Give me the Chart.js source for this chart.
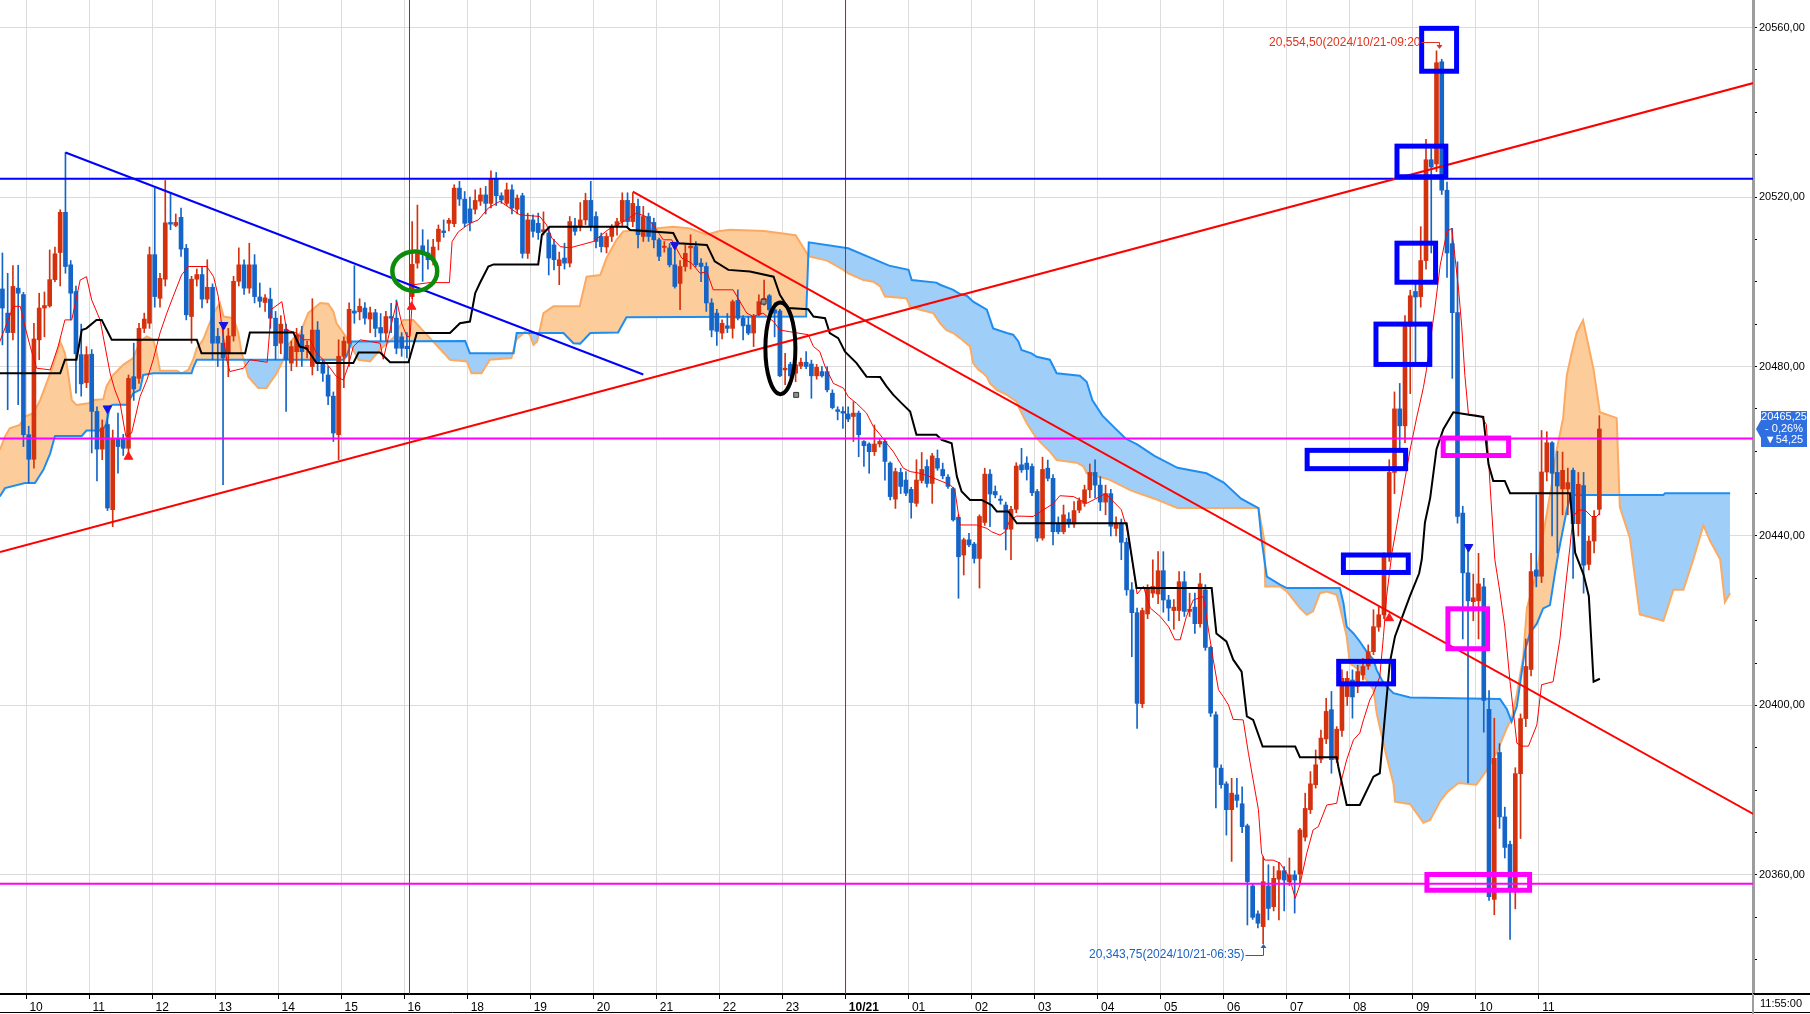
<!DOCTYPE html>
<html>
<head>
<meta charset="utf-8">
<script src="https://cdn.jsdelivr.net/npm/chart.js@4.4.1/dist/chart.umd.min.js"></script>
<style>
  html, body { margin: 0; padding: 0; background: #fff; }
  #wrap { width: 1810px; height: 1014px; position: relative; }
</style>
</head>
<body>
<div id="wrap"><canvas id="chart" width="1810" height="1014"></canvas></div>
<script>
// 5-minute bars, bar 0 = 10:00, last bar 299 = 10/21 11:55
const firstBar = -5;
const hourLabels = ['10', '11', '12', '13', '14', '15', '16', '18', '19', '20', '21', '22', '23', '10/21',
    '01', '02', '03', '04', '05', '06', '07', '08', '09', '10', '11'];

const opens = [
    20498.3, 20492.6, 20488.0, 20498.5, 20497.0, 20463.9, 20458.1, 20486.3, 20493.8, 20494.3,
    20500.5, 20506.9, 20516.4, 20504.0, 20497.7, 20482.8, 20476.2, 20482.9, 20469.4, 20460.5,
    20466.3, 20446.2, 20462.9, 20462.9, 20460.7, 20477.6, 20477.2, 20489.0, 20490.2, 20506.4,
    20496.1, 20500.6, 20514.0, 20513.3, 20515.2, 20507.9, 20491.8, 20500.6, 20501.7, 20495.9,
    20498.7, 20487.1, 20485.5, 20483.2, 20487.2, 20500.1, 20504.0, 20498.5, 20504.0, 20496.4,
    20495.1, 20495.9, 20491.4, 20485.5, 20488.8, 20480.8, 20483.5, 20487.5, 20484.0, 20480.0,
    20488.6, 20480.8, 20478.0, 20473.0, 20463.9, 20482.4, 20485.5, 20493.1, 20492.9, 20493.8,
    20491.2, 20492.7, 20489.2, 20487.9, 20491.8, 20491.4, 20487.0, 20484.8, 20496.5, 20504.4,
    20508.5, 20506.8, 20505.2, 20509.5, 20512.0, 20513.8, 20513.7, 20522.1, 20519.5, 20517.2,
    20517.1, 20519.0, 20520.5, 20518.5, 20524.4, 20520.3, 20518.5, 20521.7, 20517.1, 20520.3,
    20506.7, 20514.6, 20513.8, 20511.8, 20511.5, 20508.7, 20503.8, 20505.6, 20504.4, 20513.2,
    20513.0, 20514.6, 20519.2, 20515.4, 20510.7, 20508.2, 20510.7, 20513.0, 20514.2, 20519.2,
    20514.2, 20517.8, 20510.7, 20515.4, 20514.0, 20509.9, 20508.1, 20508.0, 20504.0, 20499.6,
    20503.6, 20508.0, 20508.3, 20504.4, 20503.6, 20495.0, 20492.6, 20487.9, 20489.6, 20489.0,
    20495.6, 20491.4, 20489.8, 20487.9, 20492.3, 20495.3, 20496.7, 20493.4, 20493.1, 20479.2,
    20480.5, 20478.4, 20480.1, 20481.0, 20480.6, 20477.8, 20478.8, 20478.8, 20473.7, 20469.8,
    20469.4, 20468.8, 20468.2, 20469.0, 20462.3, 20461.7, 20459.9, 20461.7, 20462.3, 20457.2,
    20448.7, 20455.0, 20453.2, 20451.0, 20447.7, 20453.1, 20456.4, 20452.4, 20458.3, 20455.7,
    20453.9, 20451.2, 20444.4, 20435.5, 20439.1, 20438.1, 20434.7, 20443.2, 20454.6, 20450.5,
    20448.7, 20447.3, 20441.6, 20446.3, 20456.8, 20457.2, 20456.4, 20450.5, 20439.5, 20456.0,
    20453.6, 20443.0, 20441.0, 20444.0, 20442.8, 20446.1, 20447.7, 20450.9, 20455.0, 20452.0,
    20448.0, 20450.0, 20441.8, 20443.0, 20438.5, 20427.3, 20421.9, 20400.4, 20421.6, 20426.5,
    20426.3, 20431.8, 20424.9, 20422.4, 20422.4, 20429.2, 20422.2, 20423.2, 20419.3, 20427.3,
    20413.7, 20397.8, 20385.2, 20381.5, 20375.4, 20378.9, 20376.8, 20371.6, 20357.4, 20350.8,
    20347.8, 20357.4, 20352.5, 20359.0, 20361.0, 20358.4, 20360.0, 20360.2, 20368.9, 20375.4,
    20381.3, 20387.3, 20392.1, 20399.0, 20387.3, 20394.1, 20402.1, 20406.0, 20404.5, 20407.2,
    20409.3, 20412.7, 20418.5, 20421.4, 20435.2, 20455.0, 20470.0, 20466.0, 20489.5, 20497.7,
    20496.5, 20505.0, 20528.8, 20527.8, 20551.9, 20521.6, 20509.0, 20492.7, 20445.4, 20431.3,
    20424.5, 20424.7, 20428.0, 20399.1, 20354.2, 20388.9, 20373.7, 20367.2, 20356.4, 20383.9,
    20396.9, 20408.5, 20432.0, 20430.5, 20455.1, 20462.0, 20455.0, 20451.1, 20451.1, 20455.5,
    20442.9, 20451.9, 20433.3, 20438.8, 20446.3
];
const highs = [
    20506.8, 20502.0, 20503.8, 20503.9, 20497.5, 20465.9, 20490.2, 20497.3, 20497.6, 20507.5,
    20508.2, 20517.0, 20530.5, 20505.0, 20499.0, 20490.0, 20484.7, 20484.0, 20470.5, 20467.4,
    20470.5, 20465.0, 20469.0, 20464.0, 20478.0, 20485.5, 20490.2, 20492.6, 20508.2, 20522.1,
    20502.0, 20523.9, 20521.0, 20516.0, 20517.4, 20508.8, 20501.3, 20503.0, 20503.6, 20505.2,
    20499.5, 20489.0, 20489.8, 20489.0, 20501.3, 20508.0, 20505.2, 20509.1, 20506.4, 20499.7,
    20497.0, 20498.5, 20493.0, 20492.0, 20490.0, 20486.0, 20489.0, 20489.5, 20486.0, 20496.0,
    20490.6, 20481.5, 20480.0, 20474.0, 20486.3, 20487.0, 20495.0, 20503.8, 20496.0, 20495.1,
    20494.0, 20493.5, 20492.5, 20493.0, 20494.9, 20495.7, 20488.0, 20488.0, 20514.2, 20518.1,
    20512.3, 20509.9, 20510.0, 20513.4, 20514.6, 20515.0, 20522.9, 20523.7, 20521.3, 20520.0,
    20521.7, 20522.1, 20522.5, 20526.2, 20525.8, 20521.0, 20523.3, 20522.9, 20520.5, 20520.9,
    20516.2, 20515.8, 20516.2, 20516.5, 20513.0, 20510.0, 20507.0, 20509.1, 20515.4, 20515.0,
    20518.7, 20520.9, 20523.7, 20516.5, 20511.5, 20511.5, 20513.5, 20515.0, 20521.0, 20521.0,
    20521.0, 20519.5, 20517.8, 20516.2, 20515.0, 20510.3, 20509.5, 20509.0, 20509.0, 20505.0,
    20508.7, 20511.1, 20509.5, 20505.5, 20504.5, 20496.0, 20493.5, 20491.0, 20492.5, 20495.7,
    20498.1, 20492.0, 20491.8, 20492.3, 20496.9, 20500.4, 20497.0, 20495.0, 20493.5, 20483.1,
    20481.0, 20481.0, 20482.0, 20483.5, 20481.5, 20480.5, 20480.0, 20480.0, 20474.5, 20470.5,
    20470.5, 20470.5, 20471.7, 20469.5, 20462.5, 20462.0, 20466.2, 20463.0, 20462.8, 20457.5,
    20456.0, 20456.0, 20455.2, 20451.5, 20458.0, 20459.7, 20458.0, 20459.5, 20460.3, 20457.2,
    20454.5, 20451.5, 20445.0, 20439.5, 20440.6, 20438.5, 20445.0, 20456.0, 20455.7, 20451.8,
    20449.5, 20448.0, 20447.0, 20457.3, 20460.7, 20458.7, 20457.0, 20451.0, 20458.6, 20457.9,
    20454.5, 20444.5, 20447.3, 20445.5, 20448.1, 20449.0, 20452.0, 20457.0, 20458.0, 20454.0,
    20452.0, 20451.0, 20444.5, 20444.0, 20439.5, 20429.0, 20423.0, 20423.0, 20428.5, 20434.4,
    20436.3, 20436.3, 20426.0, 20425.0, 20431.6, 20431.6, 20426.5, 20426.5, 20431.2, 20428.5,
    20414.0, 20398.5, 20386.0, 20382.0, 20382.8, 20382.8, 20380.8, 20372.0, 20358.0, 20351.5,
    20364.3, 20362.4, 20362.0, 20363.0, 20362.0, 20364.0, 20361.0, 20371.0, 20379.3, 20384.4,
    20389.5, 20394.2, 20401.7, 20403.3, 20395.0, 20408.4, 20408.0, 20408.4, 20409.5, 20411.1,
    20414.3, 20422.6, 20423.3, 20436.0, 20458.0, 20474.0, 20476.0, 20492.0, 20498.0, 20500.0,
    20513.0, 20533.6, 20531.4, 20554.5, 20552.5, 20523.5, 20512.6, 20504.7, 20447.0, 20437.4,
    20431.0, 20435.9, 20430.0, 20403.5, 20397.0, 20391.0, 20376.0, 20368.0, 20385.3, 20398.0,
    20415.7, 20435.9, 20449.7, 20464.9, 20464.6, 20462.3, 20460.0, 20459.8, 20456.0, 20456.0,
    20455.0, 20455.0, 20440.0, 20446.0, 20468.4
];
const lows = [
    20485.1, 20469.8, 20486.3, 20471.0, 20461.1, 20452.5, 20456.0, 20481.6, 20487.0, 20494.0,
    20500.0, 20499.0, 20502.0, 20491.0, 20473.7, 20473.0, 20475.0, 20459.6, 20453.0, 20458.0,
    20446.0, 20442.2, 20454.8, 20459.0, 20458.4, 20472.0, 20476.0, 20488.0, 20489.0, 20494.0,
    20494.0, 20499.0, 20512.3, 20513.0, 20506.0, 20491.0, 20485.5, 20499.0, 20493.8, 20495.0,
    20481.6, 20480.0, 20452.1, 20477.6, 20486.0, 20499.0, 20497.0, 20497.3, 20495.0, 20494.0,
    20493.0, 20489.0, 20481.6, 20483.0, 20469.4, 20479.0, 20480.0, 20480.0, 20482.0, 20478.0,
    20479.0, 20476.5, 20471.0, 20462.3, 20458.0, 20475.0, 20480.0, 20490.2, 20491.0, 20490.0,
    20488.0, 20487.0, 20486.0, 20486.0, 20488.0, 20483.0, 20482.4, 20482.0, 20496.0, 20503.2,
    20500.1, 20503.0, 20504.0, 20507.5, 20510.5, 20512.0, 20513.0, 20518.0, 20513.0, 20512.0,
    20516.0, 20518.0, 20516.0, 20517.4, 20518.0, 20518.5, 20518.0, 20516.0, 20516.0, 20505.6,
    20505.5, 20510.5, 20510.0, 20511.0, 20501.6, 20502.8, 20499.3, 20503.0, 20503.5, 20511.0,
    20512.0, 20513.5, 20512.0, 20508.0, 20507.0, 20506.8, 20509.5, 20511.0, 20513.0, 20513.0,
    20513.0, 20508.0, 20509.5, 20509.5, 20508.0, 20505.0, 20507.0, 20503.5, 20498.5, 20493.4,
    20502.5, 20503.0, 20503.5, 20500.0, 20493.0, 20487.0, 20485.0, 20486.5, 20488.0, 20486.7,
    20491.0, 20486.3, 20487.5, 20484.7, 20492.0, 20494.5, 20491.5, 20487.0, 20477.6, 20475.7,
    20477.5, 20476.4, 20479.5, 20479.5, 20472.5, 20477.0, 20477.5, 20474.0, 20470.0, 20467.4,
    20465.4, 20467.0, 20462.3, 20458.7, 20456.4, 20454.8, 20459.0, 20461.0, 20453.2, 20448.5,
    20446.5, 20450.0, 20449.5, 20444.2, 20447.0, 20452.5, 20451.5, 20447.7, 20455.5, 20453.5,
    20451.2, 20443.5, 20425.3, 20430.8, 20437.5, 20433.6, 20427.7, 20442.5, 20442.2, 20449.0,
    20447.5, 20436.7, 20434.4, 20445.5, 20455.0, 20453.2, 20449.5, 20438.7, 20439.0, 20453.0,
    20437.9, 20440.5, 20440.5, 20442.0, 20442.0, 20445.5, 20447.0, 20449.0, 20449.0, 20446.0,
    20445.0, 20440.0, 20440.0, 20434.4, 20426.0, 20411.5, 20394.6, 20399.5, 20420.5, 20425.5,
    20424.0, 20422.0, 20420.0, 20418.0, 20420.0, 20421.0, 20421.0, 20417.0, 20418.5, 20413.0,
    20397.4, 20375.8, 20380.5, 20369.4, 20363.2, 20376.0, 20370.0, 20348.2, 20349.5, 20347.5,
    20343.75, 20349.4, 20351.5, 20349.4, 20351.5, 20357.5, 20351.0, 20358.0, 20368.0, 20374.5,
    20380.5, 20386.5, 20391.0, 20384.0, 20386.5, 20392.7, 20400.0, 20397.0, 20403.0, 20406.0,
    20408.5, 20412.0, 20417.5, 20420.5, 20434.0, 20450.0, 20460.0, 20462.0, 20473.6, 20481.0,
    20494.0, 20503.0, 20506.8, 20526.0, 20520.6, 20501.0, 20477.2, 20443.0, 20415.7, 20381.7,
    20420.0, 20415.7, 20393.7, 20354.0, 20350.6, 20371.0, 20364.0, 20344.8, 20352.0, 20368.6,
    20395.0, 20407.0, 20428.0, 20429.0, 20453.0, 20440.0, 20436.0, 20445.0, 20445.0, 20430.0,
    20440.0, 20426.5, 20432.0, 20436.0, 20445.0
];
const closes = [
    20493.8, 20488.0, 20498.9, 20497.3, 20463.9, 20458.1, 20486.5, 20493.8, 20494.4, 20500.5,
    20506.6, 20516.4, 20503.6, 20497.3, 20483.0, 20475.9, 20482.8, 20469.4, 20460.5, 20465.5,
    20446.6, 20462.9, 20461.1, 20460.7, 20477.2, 20474.7, 20489.0, 20491.2, 20506.4, 20496.5,
    20500.8, 20513.9, 20513.6, 20514.0, 20507.7, 20492.2, 20500.6, 20501.7, 20495.9, 20498.7,
    20485.5, 20485.5, 20482.0, 20487.2, 20500.1, 20504.0, 20498.5, 20504.0, 20496.5, 20495.4,
    20496.2, 20491.4, 20484.9, 20490.0, 20481.6, 20484.7, 20487.4, 20483.5, 20485.0, 20488.6,
    20480.8, 20478.4, 20473.0, 20464.3, 20482.4, 20486.0, 20493.5, 20492.6, 20494.2, 20491.4,
    20492.7, 20489.0, 20487.9, 20491.8, 20491.4, 20484.3, 20484.3, 20484.2, 20504.1, 20506.6,
    20506.4, 20505.2, 20508.2, 20512.4, 20511.6, 20514.5, 20522.1, 20519.5, 20513.8, 20513.9,
    20519.2, 20520.5, 20518.5, 20524.4, 20520.3, 20519.3, 20521.7, 20517.4, 20519.7, 20506.7,
    20514.6, 20511.9, 20511.6, 20512.3, 20505.6, 20505.2, 20505.2, 20504.4, 20514.2, 20511.9,
    20514.6, 20519.2, 20513.0, 20509.5, 20508.3, 20510.7, 20513.0, 20514.2, 20519.2, 20514.2,
    20518.5, 20511.1, 20515.4, 20510.7, 20509.9, 20506.0, 20508.4, 20504.0, 20498.9, 20503.6,
    20506.7, 20508.4, 20504.0, 20503.6, 20495.0, 20488.6, 20488.3, 20490.2, 20489.0, 20495.3,
    20491.4, 20489.6, 20487.9, 20491.8, 20495.3, 20496.1, 20493.4, 20492.6, 20477.8, 20479.6,
    20477.8, 20480.4, 20481.0, 20480.0, 20477.8, 20479.8, 20477.8, 20474.5, 20470.3, 20469.4,
    20469.0, 20467.6, 20469.0, 20463.9, 20461.3, 20459.9, 20461.7, 20462.3, 20457.6, 20449.3,
    20455.2, 20451.7, 20450.1, 20447.9, 20453.2, 20455.7, 20452.4, 20458.9, 20456.0, 20454.2,
    20451.7, 20443.8, 20435.1, 20439.1, 20437.9, 20434.7, 20444.6, 20454.6, 20449.9, 20449.7,
    20448.4, 20441.6, 20446.3, 20456.5, 20455.6, 20455.7, 20450.2, 20439.5, 20455.7, 20453.6,
    20441.0, 20441.0, 20445.0, 20442.8, 20446.0, 20448.3, 20450.9, 20455.0, 20452.0, 20448.0,
    20450.0, 20442.3, 20443.0, 20438.5, 20427.3, 20421.9, 20400.5, 20422.4, 20427.7, 20428.1,
    20431.8, 20424.9, 20423.0, 20423.2, 20429.2, 20422.2, 20422.7, 20419.3, 20428.7, 20413.7,
    20398.2, 20385.4, 20381.3, 20375.4, 20379.3, 20377.6, 20371.4, 20358.4, 20350.0, 20348.6,
    20358.4, 20352.1, 20359.2, 20361.0, 20358.8, 20360.0, 20358.8, 20370.6, 20375.7, 20381.5,
    20386.0, 20392.3, 20398.6, 20387.2, 20394.4, 20406.4, 20406.4, 20402.0, 20408.0, 20409.2,
    20412.7, 20418.6, 20421.4, 20435.0, 20455.0, 20470.0, 20466.0, 20489.5, 20496.7, 20496.4,
    20505.0, 20528.8, 20527.1, 20551.7, 20521.6, 20506.8, 20492.7, 20444.6, 20431.3, 20424.7,
    20425.4, 20428.7, 20401.2, 20354.9, 20387.5, 20373.7, 20366.5, 20356.4, 20383.9, 20396.9,
    20409.2, 20431.6, 20430.5, 20455.1, 20462.0, 20454.8, 20451.8, 20455.5, 20452.6, 20442.9,
    20452.2, 20433.1, 20438.8, 20444.6, 20465.25
];

// ichimoku lines, [bar, price]
const tenkan = [
    [-5.5, 20485.9], [-2.9, 20494.2], [-1.6, 20494.2], [-0.7, 20489.4], [0.3, 20484.7], [1.5, 20479.6],
    [4.1, 20479.2], [5.6, 20484.7], [6.9, 20491.0], [8.2, 20491.0], [9.8, 20500.4], [11.0, 20501.2],
    [12.0, 20495.7], [13.6, 20491.0], [15.5, 20478.4], [16.4, 20474.5], [17.4, 20471.3], [18.5, 20463.5],
    [19.6, 20464.3], [21.2, 20472.9], [22.5, 20476.8], [23.7, 20481.6], [25.0, 20487.9], [26.3, 20492.6],
    [27.5, 20496.5], [29.1, 20501.6], [30.4, 20503.6], [33.9, 20503.6], [35.2, 20501.2], [36.1, 20496.5],
    [36.7, 20490.2], [37.7, 20481.6], [38.3, 20478.8], [40.9, 20479.6], [42.1, 20481.6], [45.4, 20481.0],
    [46.2, 20493.5], [48.2, 20495.3], [49.1, 20488.6], [51.0, 20487.9], [52.3, 20486.3], [53.6, 20486.3],
    [54.8, 20483.1], [56.1, 20481.6], [57.4, 20479.6], [58.6, 20477.6], [59.9, 20476.8], [60.8, 20480.0],
    [61.8, 20484.7], [63.1, 20486.3], [66.9, 20485.5], [67.5, 20481.7], [69.4, 20491.8], [70.1, 20495.3],
    [71.0, 20490.2], [72.0, 20487.1], [72.6, 20487.1], [73.2, 20499.3], [76.4, 20499.8], [80.1, 20499.8],
    [80.6, 20509.5], [81.8, 20511.8], [84.0, 20513.8], [85.6, 20514.6], [87.5, 20517.4], [89.7, 20519.0],
    [93.5, 20515.8], [97.3, 20515.4], [98.6, 20513.4], [99.6, 20510.3], [101.2, 20508.3], [103.0, 20508.0],
    [107.5, 20509.5], [110.3, 20512.3], [113.2, 20514.2], [115.7, 20516.2], [117.5, 20515.4], [118.9, 20513.4],
    [120.8, 20509.9], [122.4, 20509.9], [123.3, 20507.9], [124.3, 20505.6], [126.2, 20504.4], [127.8, 20502.0],
    [129.1, 20502.4], [130.3, 20498.1], [134.1, 20498.1], [135.4, 20495.3], [136.7, 20492.6], [137.9, 20491.8],
    [139.8, 20492.6], [141.8, 20490.6], [143.0, 20488.6], [144.9, 20488.2], [148.4, 20487.5], [149.4, 20484.7],
    [150.6, 20483.5], [151.6, 20480.0], [153.2, 20476.0], [155.1, 20474.9], [156.0, 20472.9], [157.6, 20471.3],
    [159.5, 20469.0], [160.8, 20465.8], [162.1, 20463.9], [163.3, 20461.9], [164.6, 20459.9], [166.5, 20456.0],
    [167.8, 20455.2], [169.7, 20454.8], [171.6, 20454.0], [175.4, 20452.1], [176.3, 20450.9], [177.3, 20442.6],
    [180.5, 20442.6], [181.4, 20442.2], [182.4, 20441.8], [183.3, 20441.0], [184.9, 20440.2], [185.9, 20441.0],
    [186.8, 20443.8], [188.1, 20444.7], [191.2, 20444.6], [195.1, 20447.7], [196.3, 20449.5], [198.9, 20449.3],
    [200.1, 20448.5], [201.4, 20447.7], [205.0, 20450.0], [208.0, 20446.2], [209.0, 20442.0], [210.0, 20434.7],
    [211.0, 20426.3], [212.2, 20428.1], [213.5, 20423.0], [215.4, 20421.0], [217.0, 20418.6], [218.2, 20415.5],
    [219.2, 20415.5], [220.4, 20421.0], [221.7, 20424.9], [223.6, 20425.7], [224.6, 20417.8], [225.5, 20410.8],
    [226.5, 20403.7], [227.4, 20402.1], [228.4, 20400.1], [229.3, 20396.7], [231.2, 20396.6], [232.2, 20388.7],
    [233.1, 20382.4], [234.1, 20375.4], [234.7, 20365.1], [235.3, 20363.5], [236.9, 20363.5], [238.2, 20362.8],
    [239.5, 20360.4], [240.4, 20357.7], [241.1, 20354.5], [242.0, 20357.7], [243.3, 20365.1], [244.5, 20370.6],
    [245.5, 20371.4], [247.1, 20376.5], [249.0, 20376.9], [249.6, 20380.9], [250.9, 20387.2], [252.2, 20391.9],
    [253.4, 20393.5], [254.1, 20396.6], [255.3, 20401.3], [256.0, 20402.9], [257.2, 20406.8], [257.9, 20416.3],
    [258.5, 20425.7], [259.5, 20435.9], [260.4, 20442.2], [263.0, 20460.5], [264.2, 20467.8], [265.5, 20475.0],
    [266.1, 20479.3], [266.8, 20485.9], [267.7, 20493.8], [268.7, 20503.9], [270.0, 20511.9], [270.9, 20512.6],
    [271.5, 20506.1], [272.2, 20498.2], [272.8, 20489.5], [273.4, 20477.9], [274.1, 20468.5], [275.6, 20468.5],
    [276.6, 20468.1], [277.5, 20466.3], [278.2, 20451.9], [279.1, 20434.5], [280.1, 20426.5], [281.0, 20418.6],
    [282.0, 20405.6], [283.3, 20391.1], [284.2, 20390.4], [285.5, 20390.4], [287.1, 20395.4], [288.0, 20404.9],
    [290.2, 20405.6], [291.5, 20415.7], [292.5, 20427.3], [293.4, 20437.4], [294.0, 20444.6], [295.0, 20446.1],
    [296.3, 20446.1], [297.5, 20444.6], [298.5, 20444.6], [299.1, 20445.4]
];
const kijun = [
    [-5.5, 20478.4], [6.0, 20478.4], [6.9, 20481.6], [9.1, 20481.6], [10.1, 20488.6], [11.0, 20489.0],
    [12.9, 20491.0], [13.9, 20491.0], [15.8, 20486.3], [32.0, 20486.3], [32.9, 20483.1], [41.2, 20483.1],
    [42.1, 20488.0], [50.4, 20488.0], [51.6, 20484.7], [52.9, 20484.3], [54.8, 20480.8], [61.8, 20480.8],
    [62.8, 20483.3], [66.9, 20483.3], [68.8, 20481.0], [72.3, 20481.0], [73.9, 20487.9], [80.2, 20487.9],
    [82.1, 20490.2], [84.0, 20490.6], [85.0, 20497.3], [85.9, 20499.7], [87.5, 20503.6], [88.5, 20504.1],
    [97.0, 20504.1], [97.7, 20511.1], [99.2, 20513.0], [113.8, 20513.0], [114.5, 20512.2], [122.7, 20511.5],
    [123.7, 20509.1], [129.1, 20508.7], [130.6, 20504.8], [133.2, 20502.8], [137.3, 20502.4], [141.8, 20501.2],
    [143.0, 20496.9], [144.6, 20493.8], [148.4, 20493.5], [149.4, 20491.8], [151.6, 20491.4], [152.5, 20487.9],
    [154.1, 20486.7], [155.4, 20483.5], [157.6, 20480.8], [159.5, 20477.6], [162.1, 20477.5], [163.3, 20475.3],
    [164.6, 20473.3], [166.2, 20471.3], [167.8, 20469.4], [169.0, 20463.9], [172.8, 20463.9], [173.8, 20462.7],
    [175.7, 20461.9], [176.7, 20454.0], [177.6, 20450.5], [179.2, 20448.5], [181.4, 20448.5], [183.3, 20447.3],
    [184.3, 20445.8], [186.5, 20445.8], [188.1, 20443.0], [209.0, 20443.0], [210.9, 20427.7], [225.2, 20427.7],
    [226.1, 20417.0], [228.0, 20415.1], [229.3, 20410.8], [230.9, 20408.0], [231.9, 20397.4], [233.1, 20396.6],
    [234.9, 20390.3], [241.1, 20390.3], [242.0, 20387.8], [249.0, 20387.8], [249.3, 20385.6], [250.9, 20376.5],
    [253.4, 20376.5], [256.0, 20383.2], [257.2, 20384.0], [259.1, 20410.0], [260.1, 20416.3], [262.9, 20425.7],
    [264.7, 20431.2], [265.2, 20434.5], [265.8, 20443.2], [266.8, 20449.0], [268.0, 20460.5], [269.3, 20465.2],
    [271.2, 20469.2], [276.9, 20468.1], [277.9, 20456.9], [278.8, 20453.0], [281.0, 20453.0], [282.0, 20450.1],
    [293.4, 20450.1], [294.4, 20436.0], [296.0, 20430.9], [297.0, 20425.8], [297.9, 20405.6], [299.1, 20406.3]
];
const spanA = [
    [-5.5, 20460.3], [-4.5, 20463.5], [-3.6, 20465.4], [-1.7, 20466.2], [-0.7, 20468.2], [0.9, 20469.0],
    [2.2, 20472.1], [4.1, 20478.4], [5.0, 20481.6], [6.0, 20485.9], [6.9, 20483.1], [7.5, 20478.4],
    [8.2, 20472.1], [9.1, 20470.9], [11.4, 20471.3], [12.3, 20472.1], [14.2, 20472.3], [14.8, 20475.3],
    [16.1, 20478.0], [18.0, 20480.4], [19.9, 20482.0], [21.2, 20485.9], [22.5, 20487.1], [23.7, 20486.3],
    [24.4, 20483.1], [25.0, 20479.0], [28.2, 20479.0], [29.1, 20478.4], [30.4, 20479.2], [31.3, 20481.6],
    [32.0, 20484.3], [33.2, 20486.3], [35.2, 20492.6], [36.4, 20495.0], [37.1, 20491.8], [39.0, 20491.4],
    [39.9, 20487.9], [40.5, 20483.5], [41.2, 20480.4], [41.8, 20477.6], [43.7, 20474.9], [45.3, 20474.9],
    [46.3, 20476.8], [47.2, 20478.4], [48.5, 20481.6], [49.1, 20484.7], [50.7, 20487.1], [51.7, 20487.9],
    [53.2, 20492.6], [55.5, 20495.0], [57.0, 20494.8], [58.0, 20493.0], [58.6, 20490.2], [59.9, 20487.9],
    [61.2, 20485.5], [61.8, 20483.9], [62.8, 20481.6], [65.0, 20481.2], [66.9, 20484.0], [69.4, 20486.7],
    [71.3, 20491.0], [73.2, 20491.0], [76.7, 20486.3], [80.2, 20481.6], [83.4, 20481.2], [84.3, 20478.4],
    [86.2, 20478.4], [87.8, 20481.6], [91.9, 20482.0], [92.8, 20486.3], [94.5, 20488.2], [95.4, 20487.5],
    [96.1, 20485.1], [96.8, 20485.9], [98.0, 20492.6], [99.9, 20494.2], [104.9, 20494.2], [106.2, 20501.2],
    [108.8, 20501.6], [110.0, 20505.6], [111.9, 20509.9], [113.2, 20511.9], [122.7, 20513.0], [125.9, 20512.6],
    [129.1, 20511.1], [131.3, 20511.9], [133.5, 20512.3], [140.0, 20512.0], [146.0, 20511.0], [148.5, 20506.0],
    [152.0, 20505.0], [155.1, 20502.8], [156.0, 20502.0], [158.9, 20500.4], [160.8, 20500.0], [162.1, 20498.9],
    [163.0, 20496.5], [167.1, 20496.1], [167.8, 20494.1], [169.7, 20493.4], [172.2, 20492.6], [173.5, 20490.2],
    [174.7, 20488.6], [176.0, 20487.9], [177.3, 20486.7], [179.2, 20484.7], [179.8, 20480.8], [180.8, 20479.2],
    [181.7, 20478.4], [182.4, 20477.6], [183.0, 20476.0], [184.3, 20474.5], [186.2, 20473.3], [188.1, 20471.7],
    [188.7, 20469.8], [190.0, 20466.6], [191.6, 20463.5], [192.8, 20461.9], [194.4, 20459.9], [195.7, 20457.9],
    [199.5, 20457.3], [200.8, 20456.4], [201.4, 20454.8], [205.5, 20453.4], [209.9, 20450.7], [214.3, 20448.8],
    [218.7, 20446.6], [234.1, 20446.6], [235.2, 20439.1], [235.4, 20428.1], [238.2, 20428.1], [239.5, 20426.9],
    [242.0, 20423.0], [243.3, 20421.4], [244.5, 20422.2], [245.8, 20426.5], [247.1, 20426.9], [249.0, 20426.1],
    [249.6, 20423.3], [250.9, 20416.3], [251.5, 20410.0], [252.8, 20408.8], [254.7, 20406.0], [256.0, 20403.7],
    [256.3, 20401.3], [256.6, 20398.2], [257.6, 20392.7], [258.5, 20387.9], [259.8, 20381.6], [260.1, 20377.3],
    [263.0, 20376.7], [265.5, 20372.3], [266.8, 20373.0], [268.7, 20377.4], [270.0, 20379.5], [272.2, 20381.7],
    [275.6, 20381.3], [277.5, 20384.6], [279.5, 20389.0], [281.4, 20394.7], [282.3, 20396.9], [283.3, 20402.7],
    [284.5, 20411.4], [285.2, 20422.9], [287.1, 20431.6], [288.3, 20440.3], [289.9, 20451.9], [290.9, 20460.5],
    [292.1, 20467.8], [292.8, 20477.9], [293.7, 20483.0], [294.7, 20488.0], [295.9, 20490.9], [296.9, 20485.1],
    [297.9, 20479.3], [299.1, 20469.2], [301.7, 20468.1], [302.3, 20467.8], [302.9, 20446.8], [304.8, 20439.6],
    [306.7, 20421.5], [311.2, 20420.0], [313.1, 20427.3], [315.0, 20427.3], [316.9, 20434.5], [318.8, 20442.5],
    [320.1, 20438.8], [322.0, 20434.5], [322.9, 20424.4], [323.9, 20426.5]
];
const spanB = [
    [-5.5, 20449.3], [-4.5, 20451.3], [-0.7, 20452.5], [1.2, 20452.5], [2.8, 20455.6], [4.1, 20459.5],
    [5.0, 20463.6], [10.1, 20463.6], [11.0, 20464.9], [13.9, 20464.9], [14.7, 20466.2], [15.5, 20470.7],
    [16.1, 20471.0], [18.7, 20471.0], [19.9, 20473.7], [21.2, 20474.5], [21.8, 20478.0], [23.7, 20478.4],
    [31.0, 20478.4], [31.3, 20479.6], [32.0, 20481.6], [59.9, 20481.6], [60.5, 20482.4], [61.5, 20485.9],
    [83.1, 20486.0], [84.0, 20483.1], [92.3, 20483.1], [92.9, 20487.9], [101.8, 20487.9], [103.7, 20485.5],
    [105.0, 20485.4], [106.9, 20487.9], [112.2, 20488.0], [113.8, 20491.6], [148.0, 20491.8], [148.5, 20509.3],
    [156.0, 20507.9], [163.8, 20503.8], [167.5, 20502.8], [168.1, 20500.4], [172.8, 20499.8], [173.5, 20499.3],
    [176.0, 20498.1], [177.3, 20497.1], [178.6, 20496.7], [179.8, 20495.3], [182.4, 20493.4], [183.6, 20489.0],
    [186.2, 20487.9], [187.4, 20487.5], [188.4, 20485.9], [189.0, 20483.9], [190.9, 20483.1], [191.9, 20482.3],
    [194.4, 20481.6], [195.7, 20478.4], [200.1, 20477.8], [201.4, 20476.4], [202.5, 20472.0], [204.4, 20468.4],
    [206.6, 20465.7], [208.8, 20463.0], [211.0, 20461.6], [214.3, 20458.9], [218.7, 20456.1], [224.2, 20454.8],
    [227.5, 20452.6], [230.8, 20448.8], [234.1, 20446.6], [234.7, 20439.1], [235.7, 20430.4], [238.2, 20428.5],
    [239.5, 20427.7], [249.6, 20427.7], [250.3, 20424.1], [250.9, 20418.6], [252.2, 20417.0], [253.4, 20415.1],
    [254.7, 20412.7], [256.0, 20410.8], [256.6, 20408.4], [257.6, 20406.0], [258.5, 20404.5], [259.8, 20402.9],
    [263.0, 20401.9], [280.1, 20401.5], [281.4, 20399.1], [282.3, 20396.2], [283.3, 20399.8], [284.8, 20412.8],
    [285.8, 20417.1], [287.1, 20419.3], [288.3, 20422.9], [289.6, 20423.7], [290.6, 20431.6], [291.2, 20436.0],
    [292.1, 20441.7], [292.8, 20446.1], [293.4, 20449.0], [294.4, 20449.7], [311.2, 20449.7], [311.5, 20450.1],
    [323.9, 20450.1]
];

// drawn lines
const resistance = 20524.3;
const pivotLine = 20463.0;
const supportLine = 20357.9;
const blueTrend = [[7, 20530.5], [117, 20478.1]];
const redFall = [[115, 20521.3], [328.3, 20374.4]];
const redRise = [[-5.46, 20436.2], [328.3, 20546.9]];
const sessionMarks = [72.5, 155.5];

// signals
const buySignals = [[19, 20458.7], [72.9, 20494.1], [259, 20420.6]];
const sellSignals = [[15, 20470.1], [37.1, 20489.8], [123, 20508.7], [274.1, 20437.4]];
const graySignals = [[139.9, 20495.3], [146.1, 20473.3]];

// boxes: [fromBar, toBar, lowPrice, highPrice]
const blueBoxes = [
    [264.7, 272.3, 20549.1, 20560.4], [260.0, 270.25, 20524.2, 20532.6], [260.0, 268.3, 20499.3, 20509.7],
    [256.0, 267.2, 20479.9, 20490.6], [242.9, 262.6, 20455.3, 20460.8], [249.8, 263.1, 20430.8, 20436.1],
    [248.9, 260.3, 20404.5, 20411.0]
];
const pinkBoxes = [
    [268.8, 282.2, 20458.4, 20463.7], [269.7, 278.2, 20412.8, 20423.4], [265.7, 286.2, 20355.8, 20360.7]
];
// rings: [bar, price, halfWidthBars, halfHeightPrice]
const greenRing = [73.5, 20502.5, 4.7, 5.2];
const blackRing = [143.1, 20484.3, 3.24, 11.3];

const highNote = { bar: 268, price: 20554.5, text: '20,554,50(2024/10/21-09:20' };
const lowNote = { bar: 235, price: 20343.75, text: '20,343,75(2024/10/21-06:35)' };
const lastPrice = 20465.25;
const lastChange = ['20465,25', '- 0,26%', '\u25BC54,25'];
const lastTime = '11:55:00';

const xMin = -5.46, xMax = 328.25;
const yMin = 20331.9, yMax = 20566.5;
const FONT = '"Liberation Sans", Arial, sans-serif';
const UP = '#d4320f', DOWN = '#1565c8';

const pts = arr => arr.map(p => ({ x: p[0], y: p[1] }));
const bars = opens.map((_, k) => firstBar + k);
const candleColor = ctx => closes[ctx.dataIndex] >= opens[ctx.dataIndex] ? UP : DOWN;

function lineSet(data, color, width, order) {
    return { type: 'line', data: data, borderColor: color, borderWidth: width, pointRadius: 0,
        tension: 0, fill: false, order: order };
}

const overlayPlugin = {
    id: 'overlay',
    afterDatasetsDraw(chart) {
        const { ctx, chartArea: a, scales: { x, y } } = chart;
        ctx.save();
        ctx.beginPath();
        ctx.rect(a.left, a.top, a.right - a.left, a.bottom - a.top);
        ctx.clip();

        const strokeBox = b => {
            const x0 = x.getPixelForValue(b[0]), x1 = x.getPixelForValue(b[1]);
            const y0 = y.getPixelForValue(b[3]), y1 = y.getPixelForValue(b[2]);
            ctx.strokeRect(x0 + 2.5, y0 + 2.5, x1 - x0 - 5, y1 - y0 - 5);
        };
        ctx.lineWidth = 5;
        ctx.strokeStyle = '#0000ff';
        blueBoxes.forEach(strokeBox);
        ctx.strokeStyle = '#ff00ff';
        pinkBoxes.forEach(strokeBox);

        const ring = (r, color, w) => {
            const cx = x.getPixelForValue(r[0]), cy = y.getPixelForValue(r[1]);
            const rx = x.getPixelForValue(r[0] + r[2]) - cx - w / 2;
            const ry = y.getPixelForValue(r[1] - r[3]) - cy - w / 2;
            ctx.beginPath();
            ctx.ellipse(cx, cy, rx, ry, 0, 0, Math.PI * 2);
            ctx.lineWidth = w;
            ctx.strokeStyle = color;
            ctx.stroke();
        };
        ring(greenRing, '#0a8c0a', 4.5);
        ring(blackRing, '#000000', 4);
        ctx.restore();

        // high / low notes
        ctx.save();
        ctx.font = '12px ' + FONT;
        ctx.textBaseline = 'middle';
        ctx.lineWidth = 1;
        let cx = Math.round(x.getPixelForValue(highNote.bar)) + 0.5;
        let cy = Math.round(y.getPixelForValue(highNote.price));
        ctx.fillStyle = ctx.strokeStyle = '#e0321c';
        ctx.textAlign = 'right';
        ctx.fillText(highNote.text, cx - 17, cy - 8);
        ctx.beginPath();
        ctx.moveTo(cx - 16, cy - 8.5);
        ctx.lineTo(cx + 2, cy - 8.5);
        ctx.lineTo(cx + 2, cy - 5);
        ctx.stroke();
        ctx.beginPath();
        ctx.moveTo(cx - 1, cy - 6);
        ctx.lineTo(cx + 5, cy - 6);
        ctx.lineTo(cx + 2, cy - 2);
        ctx.fill();

        cx = Math.round(x.getPixelForValue(lowNote.bar)) + 0.5;
        cy = Math.round(y.getPixelForValue(lowNote.price));
        ctx.fillStyle = ctx.strokeStyle = '#1a62c2';
        ctx.fillText(lowNote.text, cx - 19, cy + 11);
        ctx.beginPath();
        ctx.moveTo(cx - 18, cy + 11.5);
        ctx.lineTo(cx, cy + 11.5);
        ctx.lineTo(cx, cy + 3);
        ctx.stroke();
        ctx.beginPath();
        ctx.moveTo(cx - 3, cy + 4);
        ctx.lineTo(cx + 3, cy + 4);
        ctx.lineTo(cx, cy);
        ctx.fill();
        ctx.restore();
    },
    afterDraw(chart) {
        const { ctx, chartArea: a, scales: { y } } = chart;
        const W = chart.width, H = chart.height;
        ctx.save();
        // axis frame pieces outside the plot
        ctx.strokeStyle = '#000';
        ctx.lineWidth = 2;
        ctx.beginPath();
        ctx.moveTo(a.right, a.bottom);
        ctx.lineTo(W, a.bottom);
        ctx.stroke();
        ctx.lineWidth = 1;
        ctx.beginPath();
        ctx.moveTo(0, H - 1.5);
        ctx.lineTo(W, H - 1.5);
        ctx.stroke();
        ctx.strokeStyle = '#9d9d9d';
        ctx.lineWidth = 2;
        ctx.beginPath();
        ctx.moveTo(a.right, a.bottom);
        ctx.lineTo(a.right, H);
        ctx.stroke();

        ctx.fillStyle = '#000';
        ctx.font = '11px ' + FONT;
        ctx.textBaseline = 'middle';
        ctx.textAlign = 'left';
        ctx.fillText(lastTime, a.right + 7, a.bottom + 10);

        // last price tag
        const py = Math.round(y.getPixelForValue(lastPrice));
        ctx.fillStyle = '#2f6fdf';
        ctx.beginPath();
        ctx.moveTo(a.right + 3, py);
        ctx.lineTo(a.right + 8, py - 9);
        ctx.lineTo(a.right + 8, py - 18);
        ctx.lineTo(W - 3, py - 18);
        ctx.lineTo(W - 3, py + 18);
        ctx.lineTo(a.right + 8, py + 18);
        ctx.lineTo(a.right + 8, py + 9);
        ctx.closePath();
        ctx.fill();
        ctx.fillStyle = '#fff';
        ctx.textAlign = 'center';
        ctx.font = '11px ' + FONT;
        const tx = (a.right + 8 + W - 3) / 2;
        ctx.fillText(lastChange[0], tx, py - 12);
        ctx.fillText(lastChange[1], tx, py);
        ctx.fillText(lastChange[2], tx, py + 11);
        ctx.restore();
    }
};

const chart = new Chart(document.getElementById('chart'), {
    type: 'bar',
    data: {
        datasets: [
            {
                type: 'line', data: pts(spanA), borderColor: '#fcaa62', borderWidth: 2, pointRadius: 0,
                tension: 0, order: 40,
                fill: { target: 1, above: '#fdcc9b', below: '#9fcef9' }
            },
            lineSet(pts(spanB), '#1f8df0', 2, 39),
            {
                data: bars.map((b, k) => ({ x: b, y: [lows[k], highs[k]] })),
                backgroundColor: candleColor, barThickness: 1, grouped: false, order: 30
            },
            {
                data: bars.map((b, k) => ({ x: b, y: [opens[k], closes[k]] })),
                backgroundColor: candleColor, barThickness: 4, minBarLength: 1, grouped: false, order: 29
            },
            lineSet([{ x: sessionMarks[0], y: yMin }, { x: sessionMarks[0], y: yMax }], '#ff0000', 1, 35),
            lineSet([{ x: sessionMarks[1], y: yMin }, { x: sessionMarks[1], y: yMax }], '#ff0000', 1, 35),
            lineSet(pts(tenkan), '#ff0000', 1, 12),
            lineSet(pts(kijun), '#000000', 2, 11),
            lineSet([{ x: xMin, y: resistance }, { x: xMax, y: resistance }], '#0000ff', 2, 6),
            lineSet([{ x: xMin, y: pivotLine }, { x: xMax, y: pivotLine }], '#ff00ff', 2, 6),
            lineSet([{ x: xMin, y: supportLine }, { x: xMax, y: supportLine }], '#ff00ff', 2, 6),
            lineSet(pts(blueTrend), '#0000ff', 2, 5),
            lineSet(pts(redFall), '#ff0000', 2, 5),
            lineSet(pts(redRise), '#ff0000', 2, 5),
            {
                type: 'scatter', data: pts(buySignals), pointStyle: 'triangle', pointRadius: 5,
                backgroundColor: '#ff1a1a', borderColor: '#ff1a1a', order: 1
            },
            {
                type: 'scatter', data: pts(sellSignals), pointStyle: 'triangle', rotation: 180, pointRadius: 5,
                backgroundColor: '#1414e6', borderColor: '#1414e6', order: 1
            },
            {
                type: 'scatter', data: pts(graySignals), pointStyle: 'rect', pointRadius: 3.5,
                backgroundColor: '#8f8f8f', borderColor: '#333', borderWidth: 1, order: 1
            }
        ]
    },
    options: {
        responsive: false,
        animation: false,
        devicePixelRatio: 1,
        events: [],
        layout: { padding: 0, autoPadding: false },
        plugins: { legend: { display: false }, tooltip: { enabled: false }, title: { display: false } },
        scales: {
            x: {
                type: 'linear', min: xMin, max: xMax, offset: false,
                afterBuildTicks: s => { s.ticks = hourLabels.map((_, k) => ({ value: 12 * k - 0.5 })); },
                afterFit: s => { s.height = 20; s.paddingLeft = 0; s.paddingRight = 0; },
                ticks: {
                    autoSkip: false, maxRotation: 0, minRotation: 0, align: 'start', padding: 1, color: '#000',
                    font: ctx => ({ family: FONT, size: 12, weight: ctx.index === 13 ? 'bold' : 'normal' }),
                    callback: (v, i) => ' ' + hourLabels[i]
                },
                grid: { color: '#dcdcdc', lineWidth: 1, tickLength: 5, tickColor: '#000', offset: false },
                border: { color: '#000', width: 2 }
            },
            y: {
                position: 'right', min: yMin, max: yMax,
                afterFit: s => { s.width = 57; s.paddingTop = 0; s.paddingBottom = 0; },
                ticks: {
                    stepSize: 10, includeBounds: false, autoSkip: false, padding: 2, color: '#000',
                    font: { family: FONT, size: 11 },
                    callback: v => (v % 40 === 0 ? v.toFixed(2).replace('.', ',') : '')
                },
                grid: {
                    color: ctx => (ctx.tick && ctx.tick.value % 40 === 0 ? '#dcdcdc' : 'rgba(0,0,0,0)'),
                    tickLength: 4, tickColor: '#000'
                },
                border: { color: '#9d9d9d', width: 3 }
            }
        }
    },
    plugins: [overlayPlugin]
});
</script>
</body>
</html>
